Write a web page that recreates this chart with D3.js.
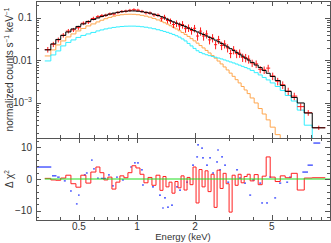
<!DOCTYPE html>
<html>
<head>
<meta charset="utf-8">
<script src="https://cdn.jsdelivr.net/npm/d3@7"></script>
<style>
body { margin: 0; background: #fff; }
svg { display: block; font-family: "Liberation Sans", Arial, sans-serif; }
</style>
</head>
<body>
<svg id="chart" width="331" height="243"></svg>
<script>
// bin edges (keV) shared by the data, model and residuals
const edges = [0.333,0.358,0.380,0.403,0.428,0.455,0.483,0.512,0.544,0.577,0.613,0.643,0.674,0.707,0.742,0.778,0.816,0.856,0.898,0.942,0.988,1.037,1.087,1.141,1.196,1.255,1.316,1.364,1.414,1.466,1.519,1.574,1.632,1.692,1.754,1.818,1.884,1.952,2.024,2.097,2.174,2.254,2.335,2.421,2.510,2.601,2.696,2.795,2.897,3.001,3.112,3.226,3.343,3.465,3.592,3.723,3.859,4.048,4.246,4.454,4.671,4.900,5.201,5.524,5.861,6.300,6.766,7.356,8.091,9.454];

const rate = [0.0180,0.0240,0.0305,0.0392,0.0490,0.0525,0.0590,0.0750,0.0800,0.0970,
	0.1070,0.1130,0.1150,0.1240,0.1230,0.1335,0.1420,0.1445,0.1510,0.1560,
	0.1520,0.1430,0.1320,0.1305,0.1180,0.1160,0.0960,0.1040,0.0870,0.0840,
	0.0700,0.0740,0.0650,0.0700,0.0560,0.0585,0.0505,0.0570,0.0375,0.0490,
	0.0375,0.0420,0.0305,0.0340,0.0235,0.0310,0.0225,0.0245,0.0197,0.0145,
	0.0178,0.0145,0.0148,0.0118,0.0116,0.0108,0.0087,0.0083,0.0062,0.0060,
	0.0066,0.0043,0.00325,0.00268,0.00190,0.00145,0.00082,0.00059,0.000262];

const rateErr = [0.0027,0.0034,0.0040,0.0047,0.0059,0.0058,0.0065,0.0075,0.0080,0.0097,
	0.0096,0.0102,0.0104,0.0099,0.0098,0.0107,0.0114,0.0116,0.0121,0.0125,
	0.0122,0.0114,0.0119,0.0117,0.0118,0.0116,0.0134,0.0146,0.0131,0.0126,
	0.0126,0.0133,0.0130,0.0140,0.0112,0.0117,0.0101,0.0114,0.0083,0.0108,
	0.0083,0.0092,0.0067,0.0075,0.0052,0.0068,0.0050,0.0054,0.0043,0.0032,
	0.0039,0.0032,0.0033,0.0026,0.0026,0.0024,0.0017,0.0017,0.0012,0.0012,
	0.0013,0.00086,0.00065,0.00054,0.00038,0.00029,0.00016,0.00009,0.00003];

const model = [0.0177,0.0245,0.0312,0.0388,0.0468,0.0551,0.0631,0.0723,0.0827,0.0922,
	0.1,0.1085,0.1158,0.1228,0.1297,0.1354,0.1399,0.1438,0.1461,0.1461,
	0.1438,0.1399,0.1354,0.1297,0.1222,0.1139,0.1067,0.1,0.0932,0.0859,
	0.0805,0.0755,0.0711,0.0666,0.0621,0.0575,0.0536,0.05,0.0468,0.0437,
	0.0407,0.0377,0.035,0.0324,0.03,0.0275,0.0251,0.0229,0.0208,0.0189,
	0.0171,0.0155,0.014,0.0126,0.0113,0.0102,0.0090,0.0078,0.0068,0.0058,
	0.0050,0.0042,0.00338,0.00258,0.00187,0.00135,0.0010,0.00058,0.00026];

// orange component
const softComp = [0.01276,0.01767,0.02316,0.02876,0.03572,0.04202,0.04943,0.05662,0.06483,0.07225,
	0.0805,0.0883,0.0958,0.1028,0.1096,0.1151,0.1189,0.1216,0.1222,0.1216,
	0.1189,0.1151,0.1102,0.1044,0.0973,0.0897,0.0836,0.0771,0.0715,0.0655,
	0.0604,0.0551,0.0500,0.0453,0.0409,0.0367,0.0326,0.0289,0.0255,0.0224,
	0.0197,0.0172,0.0150,0.0130,0.0113,0.00968,0.00827,0.00703,0.00598,0.00503,
	0.00423,0.00353,0.00296,0.00244,0.00202,0.00166,0.00131,0.00100,0.00074,0.00055,
	0.00040,0.00027,0.00018,0.00011,0.00007,0.00004,0.00002,0.00001,0.000005];

// cyan component
const hardComp = [0.00973,0.01347,0.01674,0.02194,0.02652,0.03037,0.03477,0.03876,0.04202,0.04558,
	0.04943,0.05221,0.0551,0.05754,0.05977,0.06141,0.06275,0.06378,0.06413,0.06413,
	0.06343,0.06208,0.06043,0.05817,0.0557,0.05278,0.05027,0.04814,0.04583,0.04341,
	0.0409,0.03813,0.03533,0.03205,0.02876,0.02512,0.02194,0.01916,0.01691,0.01542,
	0.01438,0.01362,0.01297,0.01242,0.01189,0.01139,0.01085,0.01027,0.00973,0.00922,
	0.00873,0.00823,0.00775,0.00726,0.00681,0.00638,0.00582,0.00516,0.00456,0.00398,
	0.00348,0.00296,0.00244,0.00197,0.00150,0.00111,0.00068,0.00030,0.00005];

const delchi = [0.2,-0.3,-0.4,0.3,1.2,-1.5,-2.6,1.2,-1.3,2.2,
	3.8,2.0,-0.3,0.6,-3.2,-1.0,1.0,0.4,2.0,4.2,
	3.5,1.5,-1.2,0.5,-2.0,1.2,-3.6,0.8,-2.5,-1.0,
	-4.5,-0.8,-2.8,1.0,-3.5,0.5,-1.8,3.8,-7.6,3.0,
	-2.5,2.6,-4.0,1.5,-9.0,2.8,-3.0,1.8,-1.5,-10.5,
	1.2,-2.0,1.5,-1.2,0.8,1.5,-0.6,1.4,-1.8,0.9,
	7.0,0.6,-0.8,1.0,0.4,1.8,-3.5,0.3,0.4];

// second residual set (blue)
const blueE = [0.33,0.373,0.392,0.423,0.455,0.488,0.50,0.537,0.55,0.584,0.599,0.628,0.67,0.716,0.751,0.788,0.846,0.931,0.976,1.012,
	1.061,1.074,1.211,1.316,1.364,1.397,1.448,1.519,1.613,1.672,1.818,1.952,2.05,2.073,2.174,2.198,2.306,2.392,2.48,2.60,
	2.63,2.696,2.76,2.86,2.97,3.30,3.42,3.63,3.86,4.0,4.35,4.45,4.72,4.90,5.20,5.52,6.0,6.22,7.44,7.9,8.55];
const blueHalf = [0.03,0.01,0.006,0.005,0.005,0.005,0.005,0.006,0.006,0.006,0.006,0.006,0.02,0.008,0.008,0.008,0.01,0.01,0.01,0.012,
	0.012,0.012,0.014,0.015,0.015,0.016,0.016,0.017,0.018,0.019,0.02,0.022,0.023,0.023,0.025,0.025,0.026,0.027,0.028,0.03,
	0.03,0.03,0.03,0.032,0.034,0.04,0.04,0.04,0.045,0.045,0.05,0.05,0.055,0.055,0.06,0.07,0.07,0.08,0.25,0.25,0.35];
const blueDelchi = [3.8,1.0,0.6,-0.6,-3.8,-7.9,-5.1,1.3,1.9,6.0,3.2,0.3,0.2,1.3,-2.2,0.6,-0.3,3.8,5.1,5.1,
	2.9,-1.9,-2.5,-5.1,-9.2,-6.0,-8.9,-8.3,-2.5,-3.5,-1.0,4.4,7.0,10.8,9.8,6.7,4.4,6.7,1.9,5.4,
	9.2,2.9,7.0,4.4,-1.0,2.9,0.3,-1.3,-5.1,-0.3,-1.3,-7.6,-7.6,0.6,-6.0,-1.3,-1.0,0.6,2.2,4.4,11.4];

const xMajor = [0.5, 1, 2, 5];
const xMinor = [0.4, 0.6, 0.7, 0.8, 0.9, 3, 4, 6, 7, 8, 9];
const yTopMajor = [0.001, 0.01, 0.1];
const yTopMinor = [2e-4,3e-4,4e-4,5e-4,6e-4,7e-4,8e-4,9e-4,0.002,0.003,0.004,0.005,0.006,0.007,0.008,0.009,0.02,0.03,0.04,0.05,0.06,0.07,0.08,0.09,0.2];
const yBotMajor = [-10, 0, 10];
const yBotMinor = [-12, -8, -6, -4, -2, 2, 4, 6, 8, 12];

const svg = d3.select("#chart");
const padL = 36, padR = 330, padT = 1, midY = 138, padB = 220;
const frame = "#555";
const ink = "#333";

const x = d3.scaleLog().domain([0.3, 10]).range([padL, padR]);
const yTop = d3.scaleLog().domain([1.5e-4, 0.25]).range([midY, padT]);
const yBot = d3.scaleLinear().domain([-13, 13]).range([padB, midY]);

const bins = d3.range(rate.length).map(i => ({
	lo: edges[i], hi: edges[i + 1], c: Math.sqrt(edges[i] * edges[i + 1]),
	rate: rate[i], err: rateErr[i], model: model[i],
	soft: softComp[i], hard: hardComp[i], chi: delchi[i]
}));

const defs = svg.append("defs");
defs.append("clipPath").attr("id", "clipTop").append("rect")
	.attr("x", padL).attr("y", padT).attr("width", padR - padL).attr("height", midY - padT);
defs.append("clipPath").attr("id", "clipBot").append("rect")
	.attr("x", padL).attr("y", midY).attr("width", padR - padL).attr("height", padB - midY);

function stepPoints(key) {
	const pts = bins.map(b => [b.lo, b[key]]);
	pts.push([edges[edges.length - 1], bins[bins.length - 1][key]]);
	return pts;
}

const stepTop = d3.line().x(d => x(d[0])).y(d => yTop(d[1])).curve(d3.curveStepAfter);
const stepBot = d3.line().x(d => x(d[0])).y(d => yBot(d[1])).curve(d3.curveStepAfter);

// ---- top panel ----
const topG = svg.append("g").attr("clip-path", "url(#clipTop)");

topG.append("path").attr("d", stepTop(stepPoints("soft")))
	.attr("fill", "none").attr("stroke", "#ffa64d").attr("stroke-width", 1);
topG.append("path").attr("d", stepTop(stepPoints("hard")))
	.attr("fill", "none").attr("stroke", "#33eeff").attr("stroke-width", 1);

const pts = topG.append("g").attr("stroke", "#ff1a1a").attr("stroke-width", 1);
pts.selectAll("line.v").data(bins).enter().append("line")
	.attr("x1", d => x(d.c)).attr("x2", d => x(d.c))
	.attr("y1", d => yTop(d.rate + d.err)).attr("y2", d => yTop(Math.max(d.rate - d.err, 1e-6)));
pts.selectAll("line.h").data(bins).enter().append("line")
	.attr("x1", d => x(d.lo)).attr("x2", d => x(d.hi))
	.attr("y1", d => yTop(d.rate)).attr("y2", d => yTop(d.rate));

topG.append("path").attr("d", stepTop(stepPoints("model")))
	.attr("fill", "none").attr("stroke", "#000").attr("stroke-width", 1);

// ---- bottom panel ----
const botG = svg.append("g").attr("clip-path", "url(#clipBot)");

botG.append("g").attr("stroke", "#2233ff").attr("stroke-width", 1.2)
	.selectAll("line").data(blueE).enter().append("line")
	.attr("x1", (d, i) => x(d - blueHalf[i])).attr("x2", (d, i) => x(d + blueHalf[i]))
	.attr("y1", (d, i) => yBot(blueDelchi[i])).attr("y2", (d, i) => yBot(blueDelchi[i]));

botG.append("path").attr("d", stepBot(stepPoints("chi")))
	.attr("fill", "none").attr("stroke", "#ff2020").attr("stroke-width", 1);

botG.append("line")
	.attr("x1", x(edges[0])).attr("x2", padR)
	.attr("y1", yBot(0)).attr("y2", yBot(0))
	.attr("stroke", "#22dd22").attr("stroke-width", 1.2);

// ---- frames and ticks ----
function tickSet(axisFn, scale, values, size, tx, ty) {
	svg.append("g").attr("transform", `translate(${tx},${ty})`)
		.call(axisFn(scale).tickValues(values).tickSize(-size).tickFormat(""))
		.call(g => g.select(".domain").remove())
		.call(g => g.selectAll("line").attr("stroke", frame).attr("shape-rendering", "crispEdges"));
}

tickSet(d3.axisBottom, x, xMajor, 5, 0, midY);
tickSet(d3.axisBottom, x, xMinor, 3, 0, midY);
tickSet(d3.axisTop, x, xMajor, 5, 0, padT);
tickSet(d3.axisTop, x, xMinor, 3, 0, padT);
tickSet(d3.axisTop, x, xMajor, 5, 0, midY);
tickSet(d3.axisTop, x, xMinor, 3, 0, midY);
tickSet(d3.axisBottom, x, xMajor, 5, 0, padB);
tickSet(d3.axisBottom, x, xMinor, 3, 0, padB);
tickSet(d3.axisLeft, yTop, yTopMajor, 5, padL, 0);
tickSet(d3.axisLeft, yTop, yTopMinor, 3, padL, 0);
tickSet(d3.axisRight, yTop, yTopMajor, 5, padR, 0);
tickSet(d3.axisRight, yTop, yTopMinor, 3, padR, 0);
tickSet(d3.axisLeft, yBot, yBotMajor, 5, padL, 0);
tickSet(d3.axisLeft, yBot, yBotMinor, 3, padL, 0);
tickSet(d3.axisRight, yBot, yBotMajor, 5, padR, 0);
tickSet(d3.axisRight, yBot, yBotMinor, 3, padR, 0);

svg.append("rect").attr("x", padL).attr("y", padT).attr("width", padR - padL).attr("height", midY - padT)
	.attr("fill", "none").attr("stroke", frame).attr("shape-rendering", "crispEdges");
svg.append("rect").attr("x", padL).attr("y", midY).attr("width", padR - padL).attr("height", padB - midY)
	.attr("fill", "none").attr("stroke", frame).attr("shape-rendering", "crispEdges");

// ---- labels ----
const tickFont = "10px";

svg.append("g").selectAll("text").data(xMajor).enter().append("text")
	.attr("x", d => x(d)).attr("y", padB + 9.5)
	.attr("text-anchor", "middle").attr("font-size", tickFont).attr("fill", ink)
	.text(d => d);

const yTopText = svg.append("g").selectAll("text").data(yTopMajor).enter().append("text")
	.attr("x", padL - 4).attr("y", d => yTop(d) + 3.5)
	.attr("text-anchor", "end").attr("font-size", tickFont).attr("fill", ink);
yTopText.each(function (d) {
	const t = d3.select(this);
	if (d >= 0.01) {
		t.text(d);
	} else {
		t.append("tspan").text("10");
		t.append("tspan").attr("font-size", "7px").attr("dy", -4).text("\u2212" + Math.round(-Math.log10(d)));
	}
});

svg.append("g").selectAll("text").data(yBotMajor).enter().append("text")
	.attr("x", padL - 4).attr("y", d => yBot(d) + 3.5)
	.attr("text-anchor", "end").attr("font-size", tickFont).attr("fill", ink)
	.text(d => (d < 0 ? "\u2212" + Math.abs(d) : d));

svg.append("text").attr("x", (padL + padR) / 2).attr("y", 240)
	.attr("text-anchor", "middle").attr("font-size", "9.5px").attr("fill", ink)
	.text("Energy (keV)");

const yLab = svg.append("text")
	.attr("transform", `translate(13,${(padT + midY) / 2}) rotate(-90)`)
	.attr("text-anchor", "middle").attr("font-size", "10px").attr("fill", ink);
yLab.append("tspan").text("normalized counts s");
yLab.append("tspan").attr("font-size", "6.5px").attr("dy", -4).text("\u22121");
yLab.append("tspan").attr("dy", 4).text(" keV");
yLab.append("tspan").attr("font-size", "6.5px").attr("dy", -4).text("\u22121");

const chiLab = svg.append("text")
	.attr("transform", `translate(13,${yBot(0)}) rotate(-90)`)
	.attr("text-anchor", "middle").attr("font-size", "10px").attr("fill", ink);
chiLab.append("tspan").text("\u0394 \u03c7");
chiLab.append("tspan").attr("font-size", "6.5px").attr("dy", -4).text("2");
</script>
</body>
</html>
